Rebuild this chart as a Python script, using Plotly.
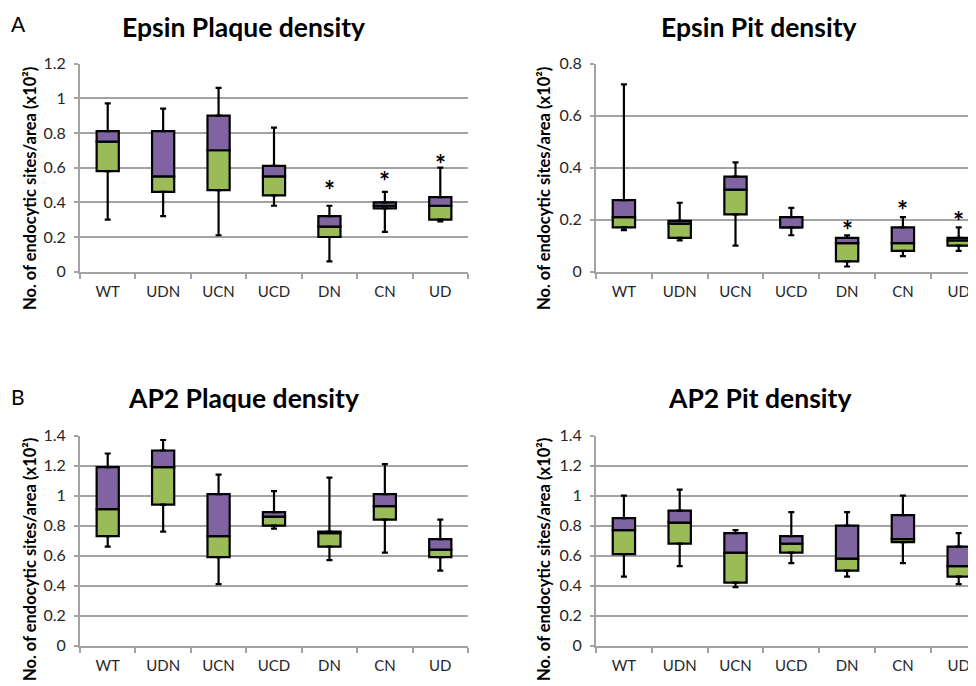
import plotly.graph_objects as go

# The page places the figure 8px from the top-left corner (default body margin),
# so the figure is sized to fill the rest of the 976x686 window.
OFF = 8
W, H = 976 - OFF, 686 - OFF

categories = ["WT", "UDN", "UCN", "UCD", "DN", "CN", "UD"]

# Epsin Plaque density
ep_plq_min = [0.30, 0.32, 0.21, 0.38, 0.06, 0.23, 0.29]
ep_plq_q1 = [0.58, 0.46, 0.47, 0.44, 0.20, 0.365, 0.30]
ep_plq_med = [0.75, 0.55, 0.70, 0.55, 0.26, 0.38, 0.38]
ep_plq_q3 = [0.81, 0.81, 0.90, 0.61, 0.32, 0.40, 0.43]
ep_plq_max = [0.97, 0.94, 1.06, 0.83, 0.38, 0.46, 0.60]
ep_plq_star_cats = ["DN", "CN", "UD"]
ep_plq_star_y = [0.50, 0.55, 0.65]

# Epsin Pit density
ep_pit_min = [0.16, 0.12, 0.10, 0.14, 0.02, 0.06, 0.08]
ep_pit_q1 = [0.17, 0.13, 0.22, 0.17, 0.04, 0.08, 0.10]
ep_pit_med = [0.21, 0.185, 0.315, 0.17, 0.11, 0.11, 0.12]
ep_pit_q3 = [0.275, 0.195, 0.365, 0.21, 0.13, 0.17, 0.13]
ep_pit_max = [0.72, 0.265, 0.42, 0.245, 0.14, 0.21, 0.17]
ep_pit_star_cats = ["DN", "CN", "UD"]
ep_pit_star_y = [0.18, 0.255, 0.215]

# AP2 Plaque density
ap_plq_min = [0.66, 0.76, 0.41, 0.78, 0.57, 0.62, 0.50]
ap_plq_q1 = [0.73, 0.94, 0.59, 0.80, 0.66, 0.84, 0.59]
ap_plq_med = [0.91, 1.19, 0.73, 0.86, 0.75, 0.93, 0.64]
ap_plq_q3 = [1.19, 1.30, 1.01, 0.89, 0.76, 1.01, 0.71]
ap_plq_max = [1.28, 1.37, 1.14, 1.03, 1.12, 1.21, 0.84]

# AP2 Pit density
ap_pit_min = [0.46, 0.53, 0.39, 0.55, 0.46, 0.55, 0.41]
ap_pit_q1 = [0.61, 0.68, 0.42, 0.62, 0.50, 0.69, 0.46]
ap_pit_med = [0.77, 0.82, 0.62, 0.68, 0.58, 0.71, 0.53]
ap_pit_q3 = [0.85, 0.90, 0.75, 0.73, 0.80, 0.87, 0.66]
ap_pit_max = [1.00, 1.04, 0.77, 0.89, 0.89, 1.00, 0.75]

titles = ["Epsin Plaque density", "Epsin Pit density", "AP2 Plaque density", "AP2 Pit density"]
y_title = "No. of endocytic sites/area (x10²)"

PURPLE = "#8064A2"
GREEN = "#9BBB59"
GRID = "#A3A3A3"
FONT = "Lato, Open Sans, sans-serif"


def px(xp):
    return (xp - OFF) / W


def py(yp):
    return 1 - (yp - OFF) / H


panels = [
    dict(mn=ep_plq_min, q1=ep_plq_q1, med=ep_plq_med, q3=ep_plq_q3, mx=ep_plq_max,
         stars=(ep_plq_star_cats, ep_plq_star_y), ymax=1.2, dtick=0.2,
         px_x=(80, 468), px_y=(63.5, 271.7), xr=[-0.5, 6.5]),
    dict(mn=ep_pit_min, q1=ep_pit_q1, med=ep_pit_med, q3=ep_pit_q3, mx=ep_pit_max,
         stars=(ep_pit_star_cats, ep_pit_star_y), ymax=0.8, dtick=0.2,
         px_x=(596, 976), px_y=(63.5, 271.7), xr=[-0.5, -0.5 + 380 / 55.8]),
    dict(mn=ap_plq_min, q1=ap_plq_q1, med=ap_plq_med, q3=ap_plq_q3, mx=ap_plq_max,
         stars=None, ymax=1.4, dtick=0.2,
         px_x=(80, 468), px_y=(435.5, 645.7), xr=[-0.5, 6.5]),
    dict(mn=ap_pit_min, q1=ap_pit_q1, med=ap_pit_med, q3=ap_pit_q3, mx=ap_pit_max,
         stars=None, ymax=1.4, dtick=0.2,
         px_x=(596, 976), px_y=(435.5, 645.7), xr=[-0.5, -0.5 + 380 / 55.8]),
]

fig = go.Figure()
annotations = []

for i, p in enumerate(panels):
    n = i + 1
    xa = "x" if n == 1 else f"x{n}"
    ya = "y" if n == 1 else f"y{n}"
    low_h = [m - q for m, q in zip(p["med"], p["q1"])]
    up_h = [q - m for q, m in zip(p["q3"], p["med"])]
    # whiskers
    fig.add_trace(go.Scatter(
        x=categories, y=p["q3"], mode="markers", marker=dict(size=1, color="rgba(0,0,0,0)"),
        error_y=dict(type="data", symmetric=False,
                     array=[a - b for a, b in zip(p["mx"], p["q3"])],
                     arrayminus=[0] * 7, color="black", thickness=2.2, width=3),
        xaxis=xa, yaxis=ya, showlegend=False, hoverinfo="skip"))
    fig.add_trace(go.Scatter(
        x=categories, y=p["q1"], mode="markers", marker=dict(size=1, color="rgba(0,0,0,0)"),
        error_y=dict(type="data", symmetric=False,
                     array=[0] * 7,
                     arrayminus=[a - b for a, b in zip(p["q1"], p["mn"])],
                     color="black", thickness=2.2, width=3),
        xaxis=xa, yaxis=ya, showlegend=False, hoverinfo="skip"))
    # boxes
    fig.add_trace(go.Bar(x=categories, y=low_h, base=p["q1"], width=0.4,
                         marker=dict(color=GREEN, line=dict(color="black", width=2.2)),
                         xaxis=xa, yaxis=ya, showlegend=False))
    fig.add_trace(go.Bar(x=categories, y=up_h, base=p["med"], width=0.4,
                         marker=dict(color=PURPLE, line=dict(color="black", width=2.2)),
                         xaxis=xa, yaxis=ya, showlegend=False))
    x0, x1 = p["px_x"]
    yt, yb = p["px_y"]
    dom_x = [max(0, px(x0)), min(1, px(x1))]
    dom_y = [py(yb), py(yt)]
    fig.layout[f"xaxis{'' if n == 1 else n}"] = dict(
        domain=dom_x, anchor=ya, type="category", categoryorder="array",
        categoryarray=categories, range=p["xr"], showline=True, linecolor=GRID, linewidth=2,
        ticks="outside", tickson="boundaries", ticklen=5, tickwidth=2, tickcolor=GRID,
        showgrid=False, zeroline=False, ticklabelstandoff=5, automargin=False,
        tickfont=dict(family=FONT, size=15, color="#262626"))
    fig.layout[f"yaxis{'' if n == 1 else n}"] = dict(
        domain=dom_y, anchor=xa, range=[0, p["ymax"]], dtick=p["dtick"], tick0=0,
        showline=True, linecolor=GRID, linewidth=2, ticks="outside", ticklen=4, tickwidth=2,
        tickcolor=GRID, showgrid=True, gridcolor=GRID, gridwidth=2, zeroline=False,
        ticklabelstandoff=5, tickformat="~g", automargin=False,
        tickfont=dict(family=FONT, size=16, color="#262626"))
    if p["stars"]:
        for c, yv in zip(*p["stars"]):
            annotations.append(dict(x=c, y=yv, xref=xa, yref=ya, text="<b>*</b>",
                                    showarrow=False, font=dict(family=FONT, size=26, color="black"),
                                    yshift=-5))
    # panel title
    ty = 27 if n <= 2 else 398
    annotations.append(dict(x=px(243 if n % 2 == 1 else 759), y=py(ty), xref="paper", yref="paper",
                            text=f"<b>{titles[i]}</b>", showarrow=False, xanchor="center", yanchor="middle",
                            font=dict(family=FONT, size=26.5, color="black")))
    # y title
    yc = 189 if n <= 2 else 560
    xc = 30 if n % 2 == 1 else 544
    annotations.append(dict(x=px(xc), y=py(yc), xref="paper", yref="paper",
                            text=f"<b>{y_title}</b>", textangle=-90, showarrow=False,
                            xanchor="center", yanchor="middle",
                            font=dict(family=FONT, size=16.5, color="black")))

annotations.append(dict(x=px(18), y=py(23), xref="paper", yref="paper", text="A", showarrow=False,
                        xanchor="center", yanchor="middle", font=dict(family=FONT, size=21, color="black")))
annotations.append(dict(x=px(18), y=py(396), xref="paper", yref="paper", text="B", showarrow=False,
                        xanchor="center", yanchor="middle", font=dict(family=FONT, size=21, color="black")))

fig.update_layout(width=W, height=H, margin=dict(l=0, r=0, t=0, b=0, autoexpand=False),
                  paper_bgcolor="white", plot_bgcolor="white", barmode="overlay",
                  annotations=annotations, showlegend=False)

fig.write_html("out.html")
